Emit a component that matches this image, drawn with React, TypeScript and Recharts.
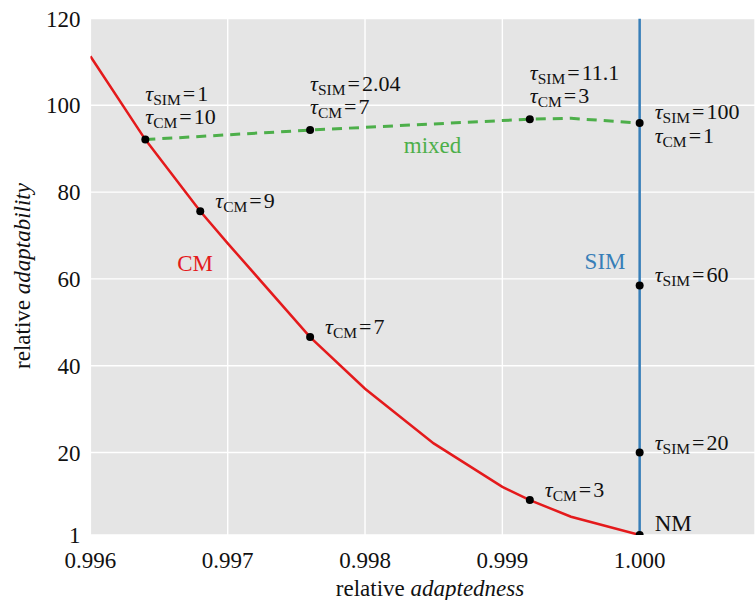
import { ComposedChart, Line, Scatter, XAxis, YAxis, CartesianGrid, ReferenceDot } from 'recharts';

const FONT = "'Liberation Serif', 'Times New Roman', serif";

// CM curve (red)
const cmX = [0.996, 0.9964, 0.9968, 0.997, 0.9976, 0.998, 0.9985, 0.999, 0.9992, 0.9995, 1.0];
const cmY = [111.3, 92.1, 75.6, 68.2, 46.6, 34.7, 22.1, 12.1, 9.05, 5.2, 1];

// mixed curve (green, dashed)
const mixedX = [0.9964, 0.9976, 0.9992, 0.9995, 1.0];
const mixedY = [92.1, 94.3, 96.8, 97.0, 95.9];

// SIM line (blue)
const simX = [1.0, 1.0];
const simY = [1, 120];

// marked points and their tau values
const dotX = [0.9964, 0.9968, 0.9976, 0.9992, 0.9976, 0.9992, 1.0, 1.0, 1.0, 1.0];
const dotY = [92.1, 75.6, 46.6, 9.05, 94.3, 96.8, 95.9, 58.5, 20, 1];
const dotSim: (string | null)[] = ['1', null, null, null, '2.04', '11.1', '100', '60', '20', null];
const dotCm: (string | null)[] = ['10', '9', '7', '3', '7', '3', '1', null, null, null];
const dotName: (string | null)[] = [null, null, null, null, null, null, null, null, null, 'NM'];

const seriesNames = ['CM', 'SIM', 'mixed'];
const seriesLabelX = [0.996763, 0.999748, 0.998492];
const seriesLabelY = [61.8, 62.3, 89.0];

const xTicks = [0.996, 0.997, 0.998, 0.999, 1.0];
const yTicks = [1, 20, 40, 60, 80, 100, 120];

const RED = '#e41a1c';
const GREEN = '#4daf4a';
const BLUE = '#377eb8';
const labelColors = [RED, BLUE, GREEN];

const toRows = (xs: number[], ys: number[]) => xs.map((x, i) => ({ x, y: ys[i] }));
const cmData = toRows(cmX, cmY);
const mixedData = toRows(mixedX, mixedY);
const simData = toRows(simX, simY);
const dots = dotX.map((x, i) => ({ x, y: dotY[i], sim: dotSim[i], cm: dotCm[i], name: dotName[i], i }));

// 'above' = two lines over the point, 'right' = beside it
const placement = ['above', 'right', 'right', 'right', 'above', 'above', 'right', 'right', 'right', 'right'];

function TauLine({ x, y, sub, value }: { x: number; y: number; sub: string; value: string }) {
  return (
    <text x={x} y={y} fontFamily={FONT} fontSize={22} fill="#111">
      <tspan fontStyle="italic">τ</tspan>
      <tspan fontSize={15.5} dy={4}>{sub}</tspan>
      <tspan dy={-4} dx={2}>=</tspan>
      <tspan dx={2}>{value}</tspan>
    </text>
  );
}

function DotShape(props: any) {
  const { cx, cy, payload } = props;
  const p = payload;
  const lines: { sub: string; value: string }[] = [];
  if (p.sim) lines.push({ sub: 'SIM', value: p.sim });
  if (p.cm) lines.push({ sub: 'CM', value: p.cm });
  const place = placement[p.i];
  return (
    <g>
      <circle cx={cx} cy={cy} r={4} fill="#000" />
      {p.name && (
        <text x={cx + 15} y={cy - 4} fontFamily={FONT} fontSize={23} fill="#111">{p.name}</text>
      )}
      {place === 'above' && lines.map((l, k) => (
        <TauLine key={k} x={cx} y={cy - 39 + k * 23} sub={l.sub} value={l.value} />
      ))}
      {place === 'right' && lines.map((l, k) => (
        <TauLine key={k} x={cx + 15} y={cy - (lines.length > 1 ? 4 : 3) + k * 24} sub={l.sub} value={l.value} />
      ))}
    </g>
  );
}

function XTick({ x, y, payload }: any) {
  return (
    <text x={x} y={y + 25} textAnchor="middle" fontFamily={FONT} fontSize={23} fill="#111">
      {payload.value.toFixed(3)}
    </text>
  );
}

function YTick({ x, y, payload }: any) {
  return (
    <text x={x - 2} y={y + 8} textAnchor="end" fontFamily={FONT} fontSize={23} fill="#111">
      {payload.value}
    </text>
  );
}

export default function App() {
  return (
    <div style={{ position: 'absolute', left: 0, top: 0, width: 755, height: 600, background: '#fff' }}>
      <ComposedChart width={755} height={600} margin={{ top: 18.5, right: 0, bottom: 0, left: 0 }}>
        <CartesianGrid fill="#e5e5e5" stroke="#fff" strokeWidth={1.4} />
        <XAxis
          type="number"
          dataKey="x"
          domain={[0.996, 1.00084]}
          ticks={xTicks}
          allowDataOverflow
          height={65}
          tickLine={false}
          axisLine={false}
          tick={<XTick />}
          label={{
            position: 'insideBottom',
            content: () => (
              <text x={430} y={596} textAnchor="middle" fontFamily={FONT} fontSize={23} fill="#111">
                relative <tspan fontStyle="italic">adaptedness</tspan>
              </text>
            ),
          }}
        />
        <YAxis
          type="number"
          dataKey="y"
          domain={[1, 120]}
          ticks={yTicks}
          allowDataOverflow
          width={90.4}
          tickLine={false}
          axisLine={false}
          tick={<YTick />}
          label={{
            position: 'insideLeft',
            content: () => (
              <text x={30} y={276} transform="rotate(-90 30 276)" textAnchor="middle" fontFamily={FONT} fontSize={23} fill="#111">
                relative <tspan fontStyle="italic">adaptability</tspan>
              </text>
            ),
          }}
        />
        <Line data={cmData} dataKey="y" type="linear" stroke={RED} strokeWidth={2.5} dot={false} isAnimationActive={false} />
        <Line data={mixedData} dataKey="y" type="linear" stroke={GREEN} strokeWidth={3} strokeDasharray="10 7" dot={false} isAnimationActive={false} />
        <Line data={simData} dataKey="y" type="linear" stroke={BLUE} strokeWidth={2.5} dot={false} isAnimationActive={false} />
        <Scatter data={dots} dataKey="y" shape={<DotShape />} isAnimationActive={false} />
        {seriesNames.map((name, i) => (
          <ReferenceDot
            key={name}
            x={seriesLabelX[i]}
            y={seriesLabelY[i]}
            r={0}
            shape={(p: any) => (
              <text x={p.cx} y={p.cy} textAnchor="middle" fontFamily={FONT} fontSize={23} fill={labelColors[i]}>
                {name}
              </text>
            )}
          />
        ))}
      </ComposedChart>
    </div>
  );
}
